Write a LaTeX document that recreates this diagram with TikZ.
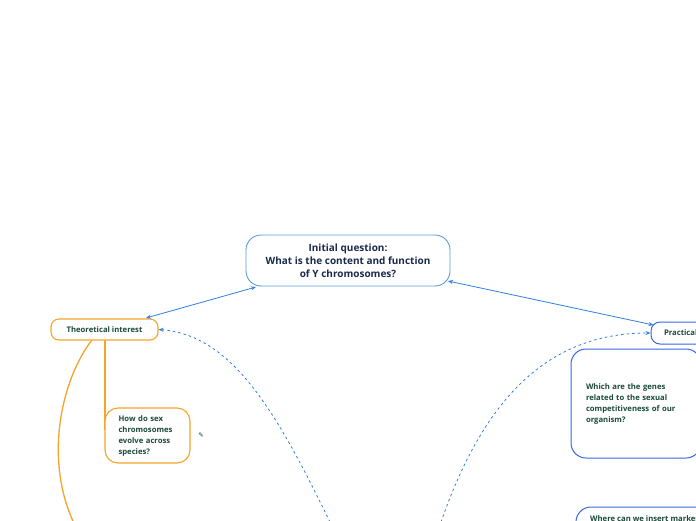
\documentclass[tikz,border=0pt]{standalone}
\usepackage{fontspec}
\setmainfont{Open Sans}
\newfontfamily\symfont{DejaVu Sans}
\usetikzlibrary{arrows.meta}
\definecolor{navy}{HTML}{1B2A4A}
\definecolor{dgreen}{HTML}{1A4A38}
\definecolor{lblue}{HTML}{5B9BD5}
\definecolor{rblue}{HTML}{3A66E6}
\definecolor{ablue}{HTML}{2F80E0}
\definecolor{orng}{HTML}{F5A42A}
\tikzset{
  central/.style={draw=lblue, line width=0.9pt, rounded corners=15pt, minimum width=204pt, minimum height=51pt, align=center, text=navy, font=\fontsize{10}{13}\selectfont\bfseries, inner sep=0pt},
  orangebox/.style={draw=orng, line width=1.1pt, fill=white, text=dgreen, font=\fontsize{7.7}{11}\selectfont\bfseries, inner sep=0pt},
  bluebox/.style={draw=rblue, line width=1pt, fill=white, text=dgreen, font=\fontsize{7.7}{11}\selectfont\bfseries, inner sep=0pt},
  link/.style={draw=ablue, line width=0.8pt, {Stealth[length=5pt,width=4pt]}-{Stealth[length=5pt,width=4pt]}},
  dlink/.style={draw=ablue, line width=0.8pt, dash pattern=on 2.5pt off 3pt, -{Stealth[length=5pt,width=4pt]}},
  branch/.style={draw=orng, line width=1.3pt}
}
\begin{document}
\begin{tikzpicture}[x=1pt,y=-1pt]
\clip (0,0) rectangle (696,520);
\fill[white] (0,0) rectangle (696,520);
% connectors from theoretical
\coordinate (tb1) at (92,340);
\coordinate (cbot) at (80,535);
\draw[branch] (tb1) .. controls (62,378) and (40,465) .. (cbot);
\draw[branch] (105,340) -- (105,430);
% nodes
\node[central] (init) at (348,260.5) {Initial question:\\What is the content and function\\of Y chromosomes?};
\node[orangebox, rounded corners=8pt, minimum width=107pt, minimum height=21pt] (theo) at (104.5,329.5) {Theoretical interest};
\node[orangebox, rounded corners=13pt, minimum width=85pt, minimum height=55pt, text width=58pt, align=left, xshift=2pt] (how) at (145.5,435.5) {How do sex\\chromosomes\\evolve across\\species?};
\node[text=dgreen, font=\symfont\fontsize{6.5}{6.5}\selectfont\bfseries, inner sep=0pt] (icon) at (201,435) {✎};
\node[bluebox, rounded corners=9pt, minimum width=100pt, minimum height=22pt, text width=74pt, align=left] (prac) at (701,333) {Practical interest};
\node[bluebox, rounded corners=15pt, minimum width=130pt, minimum height=109pt, text width=100pt, align=left] (which) at (636,403.5) {Which are the genes\\related to the sexual\\competitiveness of our\\organism?};
\draw[draw=rblue, line width=1pt, rounded corners=15pt] (576,570) rectangle (720,507);
\node[text=dgreen, font=\fontsize{7.7}{11}\selectfont\bfseries, inner sep=0pt, anchor=west] (where) at (590,518.5) {Where can we insert markers?};
% links
\coordinate (ta) at (146,318);
\coordinate (ia) at (256,287);
\coordinate (ib) at (448,281);
\coordinate (pa) at (653.5,325);
\draw[link] (ta) -- (ia);
\draw[link] (ib) -- (pa);
\coordinate (lb) at (330,522);
\coordinate (rb) at (441,522);
\draw[dlink] (lb) .. controls (280,420) and (235,335) .. (theo.east);
\draw[dlink] (rb) .. controls (480,410) and (540,333) .. (prac.west);
\end{tikzpicture}
\end{document}
